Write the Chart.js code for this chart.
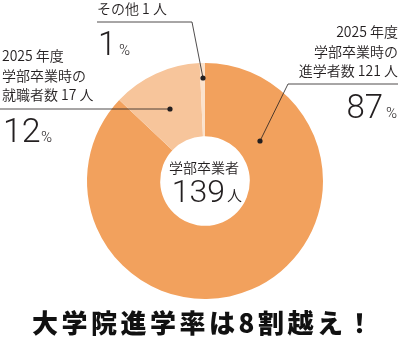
<!DOCTYPE html>
<html>
<head>
<meta charset="utf-8">
<script src="https://cdn.jsdelivr.net/npm/chart.js@4"></script>
<style>
html,body{margin:0;padding:0;background:#fff;}
#wrap{position:relative;width:400px;height:341px;}
canvas{display:block;}
</style>
</head>
<body>
<div id="wrap"><canvas id="c" width="400" height="341"></canvas></div>
<script>
const categories = ["2025年度学部卒業時の進学者数", "2025年度学部卒業時の就職者数", "その他"];
const counts = [121, 17, 1];
const percents = [87, 12, 1];
const total = 139;
const colors = ["#F2A15D", "#F7C59B", "#FBE2CC"];

const TXT = "#231f20";
const JP = '"Noto Sans CJK JP", "Noto Sans", sans-serif';
const NUM = 'Roboto, "Liberation Sans", sans-serif';

const annot = {
  id: "annot",
  afterDraw(chart) {
    const ctx = chart.ctx;
    const arc = chart.getDatasetMeta(0).data[0];
    const cx = arc.x, cy = arc.y;
    ctx.save();
    ctx.fillStyle = TXT;
    ctx.strokeStyle = TXT;
    ctx.lineWidth = 0.8;

    function t(s, x, y, font, align, base) {
      ctx.font = font;
      ctx.textAlign = align || "left";
      ctx.textBaseline = base || "middle";
      ctx.fillText(s, x, y);
    }
    function leader(pts) {
      ctx.beginPath();
      ctx.moveTo(pts[0][0], pts[0][1]);
      for (let i = 1; i < pts.length; i++) ctx.lineTo(pts[i][0], pts[i][1]);
      ctx.stroke();
      const e = pts[pts.length - 1];
      ctx.beginPath();
      ctx.arc(e[0], e[1], 2.6, 0, Math.PI * 2);
      ctx.fill();
    }
    const lab = "350 14px " + JP;

    // center
    t("学部卒業者", cx - 1, cy - 13, "350 14px " + JP, "center");
    ctx.font = "300 32px " + NUM;
    const w139 = ctx.measureText(String(total)).width;
    ctx.font = "350 15px " + JP;
    const wNin = ctx.measureText("人").width;
    const sx = cx + 2 - (w139 + wNin + 2) / 2;
    t(String(total), sx, cy + 21, "300 32px " + NUM, "left", "alphabetic");
    t("人", sx + w139 + 2, cy + 20, "350 15px " + JP, "left", "alphabetic");

    // other (top)
    t("その他 " + counts[2] + " 人", 97, 9, lab);
    leader([[97, 22], [192, 22], [cx - 2, cy - 103]]);
    t(String(percents[2]), 98, 55, "300 33px " + NUM, "left", "alphabetic");
    t("%", 119, 55, "300 15px " + NUM, "left", "alphabetic");

    // employment (left)
    t("2025 年度", 2, 56, lab);
    t("学部卒業時の", 2, 76, lab);
    t("就職者数 " + counts[1] + " 人", 2, 95, lab);
    leader([[0, 109], [cx - 35, cy - 72]]);
    t(String(percents[1]), 3, 142, "300 34px " + NUM, "left", "alphabetic");
    t("%", 41, 142, "300 15px " + NUM, "left", "alphabetic");

    // grad school (right)
    t("2025 年度", 398, 32, lab, "right");
    t("学部卒業時の", 398, 52, lab, "right");
    t("進学者数 " + counts[0] + " 人", 398, 71, lab, "right");
    leader([[398, 84], [288, 84], [cx + 55, cy - 40]]);
    t("%", 397, 118, "300 15px " + NUM, "right", "alphabetic");
    t(String(percents[0]), 383, 118, "300 33px " + NUM, "right", "alphabetic");

    // title
    ctx.font = "900 26px " + JP;
    ctx.letterSpacing = "3.5px";
    ctx.textAlign = "center";
    ctx.textBaseline = "middle";
    ctx.fillStyle = "#111";
    ctx.fillText("大学院進学率は8割越え！", 204, 323);
    ctx.restore();
  }
};

new Chart(document.getElementById("c"), {
  type: "doughnut",
  data: {
    labels: categories,
    datasets: [{
      data: counts,
      backgroundColor: colors,
      borderWidth: 0,
      hoverOffset: 0
    }]
  },
  options: {
    responsive: false,
    animation: false,
    cutout: "38%",
    rotation: 0,
    layout: { padding: { left: 87, right: 77, top: 63, bottom: 42 } },
    plugins: { legend: { display: false }, tooltip: { enabled: false } },
    events: []
  },
  plugins: [annot]
});
</script>
</body>
</html>
